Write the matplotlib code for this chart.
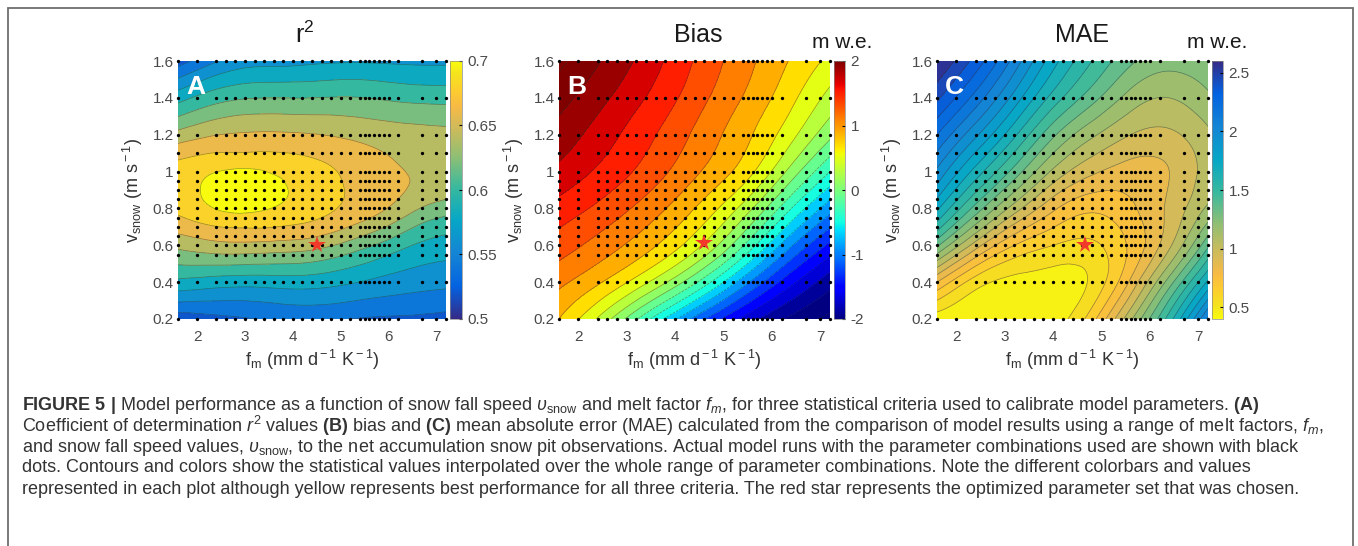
import numpy as np
import matplotlib
matplotlib.use("Agg")
import matplotlib.pyplot as plt
import matplotlib.tri as mtri
from matplotlib.colors import LinearSegmentedColormap, Normalize
from matplotlib.cm import ScalarMappable
from matplotlib.patches import Rectangle

plt.rcParams['font.family'] = ['Liberation Sans', 'DejaVu Sans']
plt.rcParams['axes.unicode_minus'] = False
plt.rcParams['mathtext.fontset'] = 'custom'
plt.rcParams['mathtext.rm'] = 'Liberation Sans'
plt.rcParams['mathtext.it'] = 'Liberation Sans:italic'
plt.rcParams['mathtext.bf'] = 'Liberation Sans:bold'

# parameter combinations of the actual model runs (black dots)
run_fm = [1.6, 2.0, 2.4, 2.6, 2.8, 3.0, 3.2, 3.4, 3.6, 3.8, 4.0, 4.2, 4.4, 4.6,
          4.8, 5.0, 5.2, 5.4, 5.5, 5.6, 5.7, 5.8, 5.9, 6.0, 6.2, 6.7, 7.0, 7.2]
run_vsnow = [0.2, 0.4, 0.55, 0.6, 0.65, 0.7, 0.75, 0.8, 0.85, 0.9, 0.95, 1.0,
             1.1, 1.2, 1.4, 1.6]

# r^2 surface (rows = v_snow, columns = f_m)
r2_fm = [1.6, 2.2, 2.9, 3.6, 4.4, 5.2, 6.0, 6.6, 7.2]
r2_vsnow = [0.2, 0.4, 0.6, 0.75, 0.9, 1.05, 1.2, 1.4, 1.6]
r2 = [
    [0.507, 0.513, 0.518, 0.522, 0.525, 0.520, 0.517, 0.516, 0.513],
    [0.575, 0.571, 0.568, 0.569, 0.569, 0.562, 0.553, 0.548, 0.545],
    [0.625, 0.632, 0.635, 0.633, 0.628, 0.612, 0.592, 0.578, 0.571],
    [0.658, 0.668, 0.674, 0.671, 0.663, 0.649, 0.630, 0.610, 0.598],
    [0.668, 0.684, 0.697, 0.686, 0.672, 0.658, 0.646, 0.636, 0.628],
    [0.662, 0.669, 0.672, 0.670, 0.663, 0.653, 0.642, 0.636, 0.633],
    [0.627, 0.637, 0.642, 0.643, 0.641, 0.636, 0.630, 0.627, 0.625],
    [0.572, 0.588, 0.598, 0.600, 0.600, 0.601, 0.597, 0.594, 0.593],
    [0.510, 0.532, 0.550, 0.553, 0.556, 0.558, 0.557, 0.556, 0.556],
]

# bias and MAE surfaces (m w.e.)
grid_fm = [1.6, 2.4, 3.2, 4.0, 4.8, 5.6, 6.4, 7.2]
grid_vsnow = [0.2, 0.4, 0.6, 0.8, 1.0, 1.2, 1.4, 1.6]
bias = [
    [0.80, 0.38, -0.18, -0.78, -1.32, -1.75, -2.05, -2.25],
    [1.05, 0.83, 0.52, 0.10, -0.45, -1.05, -1.55, -1.92],
    [1.30, 1.13, 0.93, 0.66, 0.25, -0.35, -0.98, -1.45],
    [1.52, 1.36, 1.17, 0.94, 0.64, 0.20, -0.40, -0.92],
    [1.75, 1.57, 1.38, 1.16, 0.92, 0.62, 0.12, -0.40],
    [1.92, 1.72, 1.51, 1.29, 1.05, 0.80, 0.46, 0.05],
    [2.08, 1.87, 1.65, 1.42, 1.17, 0.93, 0.65, 0.33],
    [2.25, 2.02, 1.78, 1.52, 1.26, 1.02, 0.78, 0.55],
]
mae = [
    [0.45, 0.42, 0.42, 0.45, 0.66, 1.08, 1.55, 2.12],
    [0.80, 0.55, 0.47, 0.45, 0.52, 0.82, 1.25, 1.72],
    [1.32, 0.95, 0.70, 0.60, 0.58, 0.72, 0.98, 1.38],
    [1.72, 1.36, 1.05, 0.82, 0.72, 0.78, 0.92, 1.12],
    [1.98, 1.66, 1.36, 1.08, 0.92, 0.86, 0.90, 1.05],
    [2.20, 1.92, 1.62, 1.32, 1.12, 1.00, 0.98, 1.08],
    [2.42, 2.16, 1.86, 1.56, 1.34, 1.16, 1.10, 1.18],
    [2.60, 2.36, 2.06, 1.74, 1.50, 1.32, 1.24, 1.28],
]

# optimized parameter set (red star)
star_fm = [4.5, 4.6, 4.65]
star_vsnow = [0.6, 0.61, 0.6]

# MATLAB-like parula colormap
parula_colors = [
    (0.2081, 0.1663, 0.5292), (0.0117, 0.3875, 0.8820), (0.0793, 0.5200, 0.8312),
    (0.0228, 0.6535, 0.7768), (0.2178, 0.7250, 0.6193), (0.5709, 0.7485, 0.4494),
    (0.8507, 0.7299, 0.3360), (0.9739, 0.7314, 0.2666), (0.9880, 0.8066, 0.1794),
    (0.9589, 0.8949, 0.1132), (0.9763, 0.9831, 0.0538),
]
parula_pos = [0, 8, 16, 24, 32, 40, 48, 52, 56, 60, 63]
parula = LinearSegmentedColormap.from_list(
    'parula', list(zip([p / 63 for p in parula_pos], parula_colors)))

W, H = 1358, 546
fig = plt.figure(figsize=(W / 100, H / 100), dpi=100)


def px_rect(left, top, right, bottom):
    return [left / W, 1 - bottom / H, (right - left) / W, (bottom - top) / H]


def smooth_surface(xs, ys, z, stretch=4.0):
    # cubic refinement of the gridded values so the contours come out smooth
    X, Y = np.meshgrid(xs, ys)
    z = np.asarray(z, dtype=float).ravel()
    ny, nx = X.shape
    idx = np.arange(nx * ny).reshape(ny, nx)
    a, b = idx[:-1, :-1].ravel(), idx[:-1, 1:].ravel()
    c, d = idx[1:, 1:].ravel(), idx[1:, :-1].ravel()
    tris = np.concatenate([np.column_stack([a, b, c]), np.column_stack([a, c, d])])
    tri = mtri.Triangulation(X.ravel(), Y.ravel() * stretch, tris)
    interp = mtri.CubicTriInterpolator(tri, z, kind='min_E')
    tri_f, z_f = mtri.UniformTriRefiner(tri).refine_field(z, triinterpolator=interp, subdiv=4)
    return mtri.Triangulation(tri_f.x, tri_f.y / stretch, tri_f.triangles), z_f


panels = [
    dict(z=r2, xs=r2_fm, ys=r2_vsnow, cmap=parula, vmin=0.5, vmax=0.7, shift=0.01,
         levels=np.linspace(0.5, 0.7, 11), ticks=[0.5, 0.55, 0.6, 0.65, 0.7],
         title='r$^{\\rm 2}$', tx=305, unit=None, letter='A',
         ax=(178, 61, 446, 319), cb=(450, 61, 462, 319)),
    dict(z=bias, xs=grid_fm, ys=grid_vsnow, cmap=plt.get_cmap('jet'), vmin=-2, vmax=2, shift=0,
         levels=np.linspace(-2.4, 2.4, 25), ticks=[-2, -1, 0, 1, 2],
         title='Bias', tx=698, unit=842, letter='B',
         ax=(559, 61, 830, 319), cb=(834, 61, 845, 319)),
    dict(z=mae, xs=grid_fm, ys=grid_vsnow, cmap=parula.reversed(), vmin=0.4, vmax=2.6, shift=0,
         levels=np.linspace(0.4, 2.6, 23), ticks=[0.5, 1, 1.5, 2, 2.5],
         title='MAE', tx=1082, unit=1217, letter='C',
         ax=(937, 61, 1208, 319), cb=(1212, 61, 1223, 319)),
]

tick_color = '#4a4a4a'
for i, p in enumerate(panels):
    ax = fig.add_axes(px_rect(*p['ax']))
    norm = Normalize(p['vmin'], p['vmax'])
    # each band takes the colour of its upper level where shift is set
    fill_norm = Normalize(p['vmin'] - p['shift'], p['vmax'] - p['shift'])
    tri, zf = smooth_surface(p['xs'], p['ys'], p['z'])
    ax.tricontourf(tri, zf, levels=p['levels'], cmap=p['cmap'], norm=fill_norm, extend='both')
    ax.tricontour(tri, zf, levels=p['levels'], colors='#303030', linewidths=0.5, alpha=0.5)

    X, Y = np.meshgrid(run_fm, run_vsnow)
    ax.plot(X.ravel(), Y.ravel(), 'o', color='k', ms=2.4, mew=0, clip_on=False, zorder=4)
    ax.plot(star_fm[i], star_vsnow[i], '*', color='#f23a2a', ms=13, mew=0, zorder=5)

    ax.set_xlim(1.6, 7.2)
    ax.set_ylim(0.2, 1.6)
    ax.set_xticks([2, 3, 4, 5, 6, 7])
    ax.set_yticks([0.2, 0.4, 0.6, 0.8, 1.0, 1.2, 1.4, 1.6])
    ax.set_yticklabels(['0.2', '0.4', '0.6', '0.8', '1', '1.2', '1.4', '1.6'])
    ax.tick_params(length=0, labelsize=11, labelcolor=tick_color, pad=3)
    ax.tick_params(axis='x', pad=8)
    for s in ax.spines.values():
        s.set_visible(False)

    ax.text(0.5, -0.158, 'f$_{\\rm m}$ (mm d$^{\\rm -1}$ K$^{\\rm -1}$)', transform=ax.transAxes,
            ha='center', va='center', fontsize=13, color='#333333')
    ax.text(-0.168, 0.5, 'v$_{\\rm snow}$ (m s$^{\\rm -1}$)', transform=ax.transAxes,
            ha='center', va='center', rotation=90, fontsize=13, color='#333333')
    ax.text(0.03, 0.9, p['letter'], transform=ax.transAxes, ha='left', va='center',
            fontsize=19, fontweight='bold', color='white', zorder=6)

    cax = fig.add_axes(px_rect(*p['cb']))
    cb = fig.colorbar(ScalarMappable(norm=norm, cmap=p['cmap']), cax=cax, ticks=p['ticks'])
    cb.set_ticklabels(['%g' % t for t in p['ticks']])
    cb.outline.set_linewidth(0.5)
    cb.outline.set_edgecolor('#888888')
    cax.tick_params(length=2, direction='in', labelsize=11, labelcolor=tick_color, pad=4)

    fig.text(p['tx'] / W, 1 - 35 / H, p['title'], ha='center', va='center',
             fontsize=18, color='#1a1a1a')
    if p['unit'] is not None:
        fig.text(p['unit'] / W, 1 - 42 / H, 'm w.e.', ha='center', va='center',
                 fontsize=15, color='#1a1a1a')

caption_lines = [
    r'$\mathbf{FIGURE\ 5\ |}$ Model performance as a function of snow fall speed $\upsilon_{\rm snow}$'
    r' and melt factor $f_m$, for three statistical criteria used to calibrate model parameters. $\mathbf{(A)}$',
    r'Coefficient of determination $r^{\rm 2}$ values $\mathbf{(B)}$ bias and $\mathbf{(C)}$ mean absolute'
    r' error (MAE) calculated from the comparison of model results using a range of melt factors, $f_m$,',
    r'and snow fall speed values, $\upsilon_{\rm snow}$, to the net accumulation snow pit observations.'
    r' Actual model runs with the parameter combinations used are shown with black',
    'dots. Contours and colors show the statistical values interpolated over the whole range'
    ' of parameter combinations. Note the different colorbars and values',
    'represented in each plot although yellow represents best performance for all three criteria.'
    ' The red star represents the optimized parameter set that was chosen.',
]
caption_y = [405, 426, 447, 468, 489]
cap = [fig.text(22 / W, 1 - y / H, s, ha='left', va='center', fontsize=11.5, color='#333333')
       for s, y in zip(caption_lines, caption_y)]
fig.canvas.draw()
w_last = cap[-1].get_window_extent(fig.canvas.get_renderer()).width
for t in cap:
    t.set_fontsize(11.5 * 1280 / w_last)

# frame round the figure block
fig.patches.append(Rectangle((8 / W, -0.02), 1345 / W, 1.02 - 8 / H, transform=fig.transFigure,
                             fill=False, edgecolor='#6e6e6e', linewidth=1.3))

fig.savefig('out.png', dpi=100)
